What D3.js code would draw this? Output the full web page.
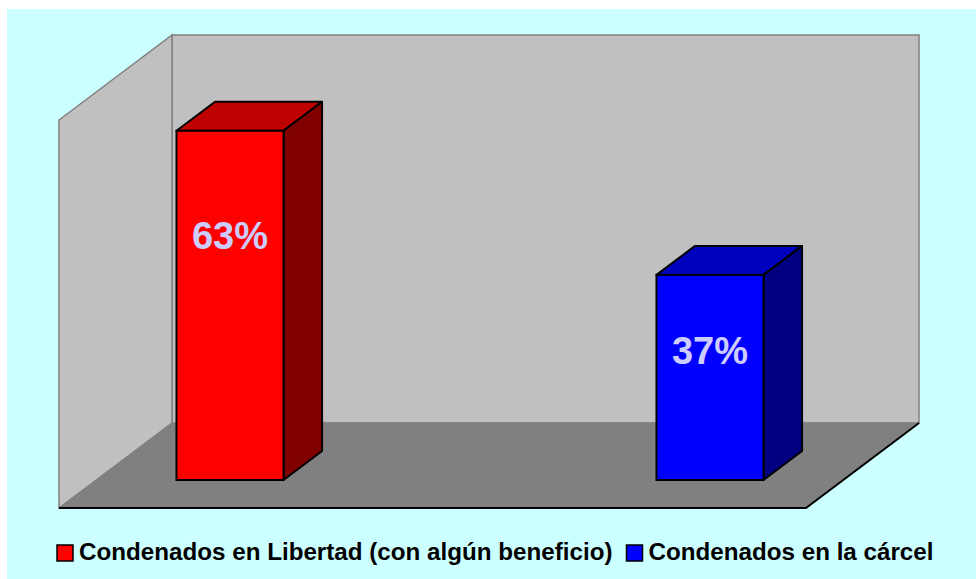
<!DOCTYPE html>
<html lang="es">
<head>
  <meta charset="UTF-8">
  <title>Condenados</title>
  <script src="https://d3js.org/d3.v7.min.js"></script>
  <style>
    body { margin: 0; background: #ffffff; }
    svg { display: block; }
    text { font-family: "Liberation Sans", Arial, sans-serif; font-weight: bold; }
  </style>
</head>
<body>
  <svg id="chart" width="976" height="579"></svg>

  <script>
    const categories = ["Condenados en Libertad (con algún beneficio)", "Condenados en la cárcel"];
    const values = [63, 37];
    const labels = ["63%", "37%"];
    const frontColors = ["#ff0000", "#0000ff"];
    const topColors = ["#bf0000", "#0000bf"];
    const sideColors = ["#800000", "#000080"];

    const svg = d3.select("#chart");

    // cyan panel
    svg.append("rect").attr("x", 7).attr("y", 9).attr("width", 969).attr("height", 570).attr("fill", "#ccffff");

    // 3d geometry: floor front edge and full depth offset
    const floorX0 = 59, floorX1 = 806, floorY = 508;
    const depthX = 113, depthY = -85;
    // bars sit between these depth fractions
    const barD0 = 28 / 85, barD1 = 57 / 85;

    // y scale lives in the bar front plane
    const y = d3.scaleLinear().domain([0, 70]).range([floorY + depthY * barD0, 92]);
    const x = d3.scaleBand().domain(categories).range([-10, 950]).paddingInner(0.777).paddingOuter(0.3885);

    const wallTop = y(70) + depthY * (1 - barD0);   // top at back plane
    const backX0 = floorX0 + depthX, backX1 = floorX1 + depthX, backY = floorY + depthY;

    const poly = pts => pts.map(p => p.join(",")).join(" ");

    // back wall
    svg.append("polygon")
      .attr("points", poly([[backX0, wallTop], [backX1, wallTop], [backX1, backY], [backX0, backY]]))
      .attr("fill", "#c0c0c0").attr("stroke", "#808080").attr("stroke-width", 1.5);
    // left wall
    svg.append("polygon")
      .attr("points", poly([[floorX0, wallTop - depthY], [backX0, wallTop], [backX0, backY], [floorX0, floorY]]))
      .attr("fill", "#c0c0c0").attr("stroke", "#808080").attr("stroke-width", 1.5);
    // floor
    svg.append("polygon")
      .attr("points", poly([[floorX0, floorY], [backX0, backY], [backX1, backY], [floorX1, floorY]]))
      .attr("fill", "#808080").attr("stroke", "#808080").attr("stroke-width", 1);
    svg.append("polyline")
      .attr("points", poly([[floorX0, floorY], [floorX1, floorY], [backX1, backY]]))
      .attr("fill", "none").attr("stroke", "#000").attr("stroke-width", 2);

    // bars
    const bdx = depthX * (barD1 - barD0), bdy = depthY * (barD1 - barD0);
    const bars = svg.append("g").selectAll("g").data(values).join("g");
    bars.each(function (v, i) {
      const g = d3.select(this);
      const x0 = x(categories[i]), x1 = x0 + x.bandwidth();
      const y0 = y(0), y1 = y(v);
      g.append("polygon")
        .attr("points", poly([[x0, y1], [x0 + bdx, y1 + bdy], [x1 + bdx, y1 + bdy], [x1, y1]]))
        .attr("fill", topColors[i]).attr("stroke", "#000").attr("stroke-width", 2).attr("stroke-linejoin", "round");
      g.append("polygon")
        .attr("points", poly([[x1, y1], [x1 + bdx, y1 + bdy], [x1 + bdx, y0 + bdy], [x1, y0]]))
        .attr("fill", sideColors[i]).attr("stroke", "#000").attr("stroke-width", 2).attr("stroke-linejoin", "round");
      g.append("rect")
        .attr("x", x0).attr("y", y1).attr("width", x1 - x0).attr("height", y0 - y1)
        .attr("fill", frontColors[i]).attr("stroke", "#000").attr("stroke-width", 2);
      g.append("text")
        .attr("x", (x0 + x1) / 2).attr("y", y(v * 0.8) + 48)
        .attr("text-anchor", "middle").attr("font-size", 38).attr("fill", "#ccccff")
        .text(labels[i]);
    });

    // legend
    let lx = 57;
    categories.forEach((c, i) => {
      svg.append("rect").attr("x", lx).attr("y", 545).attr("width", 16).attr("height", 16)
        .attr("fill", frontColors[i]).attr("stroke", "#000").attr("stroke-width", 1.5);
      const t = svg.append("text").attr("x", lx + 22).attr("y", 560)
        .attr("font-size", 24.2).attr("fill", "#000").text(c);
      lx += 22 + t.node().getComputedTextLength() + 14;
    });
  </script>
</body>
</html>
